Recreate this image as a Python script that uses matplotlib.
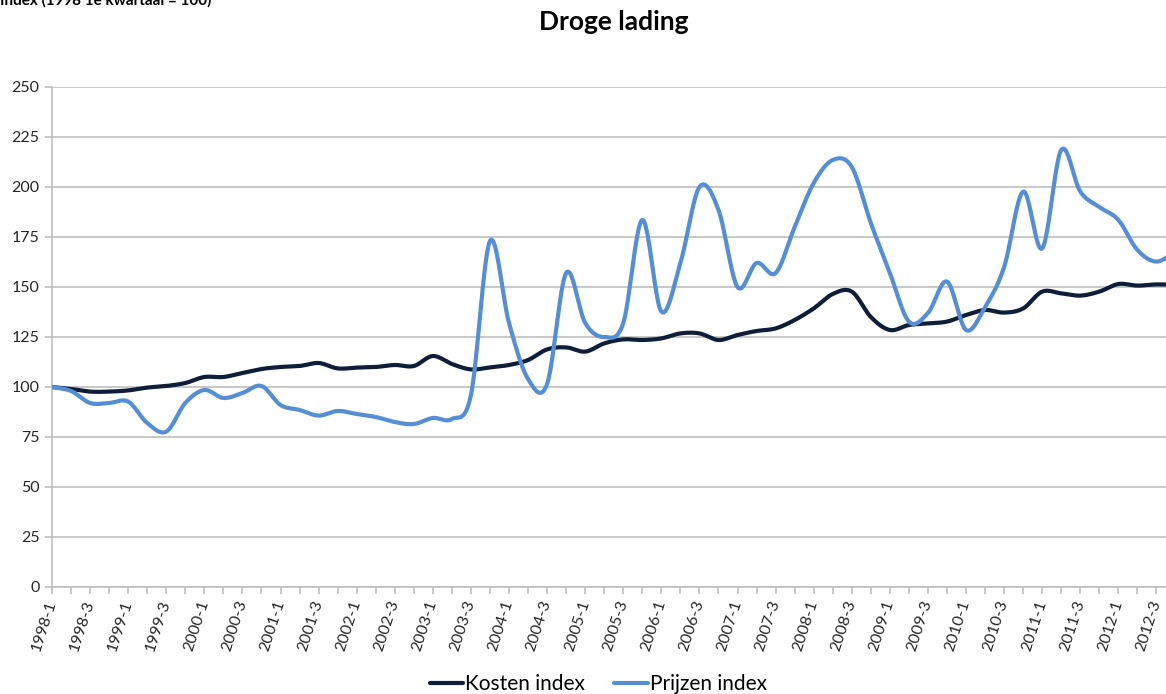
import numpy as np
import matplotlib
matplotlib.use("Agg")
import matplotlib.pyplot as plt
from matplotlib.ticker import MultipleLocator, FixedLocator

plt.rcParams['font.family'] = ['Lato', 'DejaVu Sans']

years = list(range(1998, 2013))
quarters = [f"{y}-{q}" for y in years for q in (1, 2, 3, 4)]

kosten = [100, 99, 97.7, 97.7, 98.3, 99.7, 100.5, 102, 105, 105,
          107, 109, 110, 110.5, 112, 109.3, 109.7, 110, 111, 110.5,
          115.5, 111.5, 108.8, 109.8, 111, 113.5, 118.8, 119.8, 117.7, 121.8,
          123.8, 123.5, 124.3, 126.8, 126.8, 123.5, 126, 128, 129.3, 133.5,
          139.3, 146.5, 147.7, 135, 128.5, 131, 131.8, 132.7, 136, 138.5,
          137.2, 139.3, 147.7, 146.8, 145.7, 147.7, 151.5, 150.7, 151.3, 151]

prijzen = [100, 98, 92, 92, 92.7, 82, 77.7, 92, 98.5, 94.5,
           97, 100.5, 91, 88.5, 85.7, 88, 86.5, 85, 82.5, 81.5,
           84.5, 84, 96, 173, 132, 104, 101.5, 157, 132, 125,
           132, 183.5, 137.7, 162, 200, 188.5, 150, 162, 157, 180,
           202, 213.5, 210, 182, 157, 132.7, 137, 152.7, 128.5, 140,
           160, 197.7, 169.3, 218.5, 197.7, 190, 183.5, 168.5, 162.7, 168]

series_names = ["Kosten index", "Prijzen index"]
series_colors = ["#0E1E38", "#558ED5"]

title = "Droge lading"
ylabel_text = "Index (1998 1e kwartaal = 100)"


def smooth(y, n=24):
    """Bezier smoothing through the points, like Excel's smoothed line."""
    y = np.asarray(y, float)
    x = np.arange(len(y), dtype=float)
    P = np.vstack([x, y]).T
    P = np.vstack([P[0], P, P[-1]])
    out = []
    for i in range(1, len(P) - 2):
        p0, p1, p2, p3 = P[i - 1], P[i], P[i + 1], P[i + 2]
        c1 = p1 + (p2 - p0) / 6.0
        c2 = p2 - (p3 - p1) / 6.0
        t = np.linspace(0, 1, n, endpoint=False)[:, None]
        b = ((1 - t) ** 3) * p1 + 3 * ((1 - t) ** 2) * t * c1 + 3 * (1 - t) * t ** 2 * c2 + t ** 3 * p2
        out.append(b)
    out.append(P[-2][None, :])
    pts = np.vstack(out)
    return pts[:, 0], pts[:, 1]


fig = plt.figure(figsize=(11.66, 6.94), dpi=100)
ax = fig.add_axes([52 / 1166, 1 - 587 / 694, 1 - 52 / 1166, (587 - 87) / 694])

for vals, name, col in zip([kosten, prijzen], series_names, series_colors):
    xs, ys = smooth(vals)
    ax.plot(xs, ys, color=col, lw=3.0, label=name, solid_capstyle='round', zorder=3)

ax.set_xlim(0, 58.5)
ax.set_ylim(0, 250)
ax.yaxis.set_major_locator(MultipleLocator(25))
ax.grid(axis='y', color='#BFBFBF', lw=1.2, zorder=0)
ax.set_axisbelow(True)

for s in ['top', 'right']:
    ax.spines[s].set_visible(False)
for s in ['left', 'bottom']:
    ax.spines[s].set_color('#BFBFBF')
    ax.spines[s].set_linewidth(1.2)

ax.set_xticks(range(0, len(quarters), 2))
ax.set_xticklabels(quarters[::2], rotation=72, ha='right', va='center',
                   rotation_mode='anchor', fontsize=11.5, color='#262626')
ax.xaxis.set_minor_locator(FixedLocator(list(range(1, len(quarters), 2))))
ax.tick_params(axis='x', which='both', length=5, width=1.2, color='#BFBFBF', pad=5)
ax.tick_params(axis='y', length=5, width=1.2, color='#BFBFBF', labelsize=11.5,
               labelcolor='#262626', pad=4)

fig.text(0.526, 1 - 22 / 694, title, ha='center', va='center',
         fontsize=19, fontweight='bold', color='black')
fig.text(0.0, 1.0, ylabel_text, ha='left', va='center',
         fontsize=11, fontweight='bold', color='black')

fig.legend(loc='center', bbox_to_anchor=(0.513, 1 - 684 / 694), ncol=2,
           frameon=False, fontsize=15, handlelength=1.6, handletextpad=0.1,
           columnspacing=1.4)

fig.savefig("out.png", dpi=100)
